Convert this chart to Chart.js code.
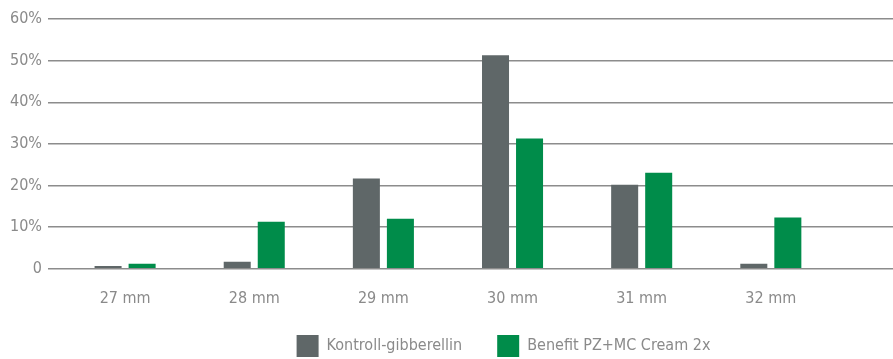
<!DOCTYPE html>
<html>
<head>
<meta charset="utf-8">
<script src="https://cdn.jsdelivr.net/npm/chart.js@4/dist/chart.umd.min.js"></script>
<style>
  html, body { margin: 0; padding: 0; background: #fff; overflow: hidden; }
  #wrap { width: 893px; height: 359px; }
</style>
</head>
<body>
<div id="wrap"><canvas id="chart-canvas"></canvas></div>
<script>
const sizesMm = [27, 28, 29, 30, 31, 32];
const kontroll = [0.7, 1.7, 21.7, 51.3, 20.2, 1.2];
const benefit = [1.2, 11.3, 12.0, 31.3, 23.1, 12.3];
const yTicks = [0, 10, 20, 30, 40, 50, 60];

const FONT = "'Liberation Sans Narrow', 'DejaVu Sans Condensed', sans-serif";
const TEXT = '#8a8a8a';

function points(values) {
  return sizesMm.map((x, i) => ({ x: x, y: values[i] }));
}

// legend keeps wide item spacing, but takes less height and sits a bit off-centre
const legendFit = {
  id: 'legendFit',
  beforeUpdate(chart) {
    const lg = chart.legend;
    if (!lg || lg._patched) return;
    const fit = lg.fit;
    const draw = lg._draw;
    lg.fit = function () {
      fit.call(this);
      this.height = 31;
    };
    lg._draw = function () {
      const ctx = this.ctx;
      ctx.save();
      ctx.translate(55, -28);
      draw.apply(this, arguments);
      ctx.restore();
    };
    lg._patched = true;
  },
};

function createChart() {
  const canvas = document.getElementById('chart-canvas');

  const options = {
    type: 'bar',
    data: {
      datasets: [
        {
          label: 'Kontroll-gibberellin',
          data: points(kontroll),
          backgroundColor: '#5f6768',
        },
        {
          label: 'Benefit PZ+MC Cream 2x',
          data: points(benefit),
          backgroundColor: '#008c4a',
        },
      ],
    },
    plugins: [legendFit],
    options: {
      responsive: true,
      maintainAspectRatio: false,
      animation: false,
      datasets: {
        bar: { categoryPercentage: 0.527, barPercentage: 0.794 },
      },
      layout: { padding: { top: 19, right: 0, left: 4, bottom: 0 } },
      plugins: {
        tooltip: { enabled: false },
        legend: {
          position: 'bottom',
          labels: {
            boxWidth: 22,
            boxHeight: 22,
            padding: 35,
            color: TEXT,
            font: { family: FONT, size: 16 },
          },
        },
      },
      scales: {
        x: {
          type: 'linear',
          offset: false,
          min: 26.403,
          max: 32.946,
          grid: { display: false, drawTicks: false },
          border: { display: false },
          afterBuildTicks: (scale) => {
            scale.ticks = sizesMm.map((v) => ({ value: v }));
          },
          ticks: {
            color: TEXT,
            font: { family: FONT, size: 16 },
            padding: 20,
            callback: (v) => v + ' mm',
          },
        },
        y: {
          min: 0,
          max: 60,
          afterBuildTicks: (scale) => {
            scale.ticks = yTicks.map((v) => ({ value: v }));
          },
          grid: { color: '#8c8c8c', lineWidth: 1.5, drawTicks: false },
          border: { display: false },
          ticks: {
            color: TEXT,
            font: { family: FONT, size: 16 },
            padding: 6,
            callback: (v) => (v === 0 ? '0' : v + '%'),
          },
        },
      },
    },
  };

  new Chart(canvas, options);
}

document.addEventListener('DOMContentLoaded', createChart);
</script>
</body>
</html>
